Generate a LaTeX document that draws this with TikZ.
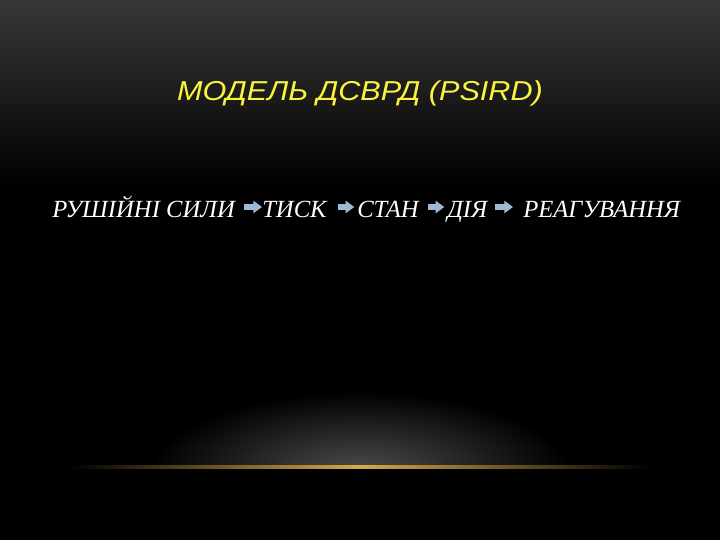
\documentclass[tikz,border=0pt]{standalone}
\usepackage{fontspec}
\setmainfont{Liberation Serif}
\newfontfamily\titlefont[FakeStretch=1.12]{Liberation Sans}
\usetikzlibrary{arrows.meta}
\definecolor{titleyellow}{RGB}{250,245,60}
\definecolor{arrowblue}{RGB}{160,185,210}
\definecolor{glowgold}{RGB}{215,170,70}

\begin{document}
\begin{tikzpicture}[x=0.75pt,y=-0.75pt,
    stage/.style={anchor=base west,inner sep=0pt,text=white,font=\fontsize{18.5}{20}\selectfont\itshape},
    flow/.style 2 args={draw=arrowblue,line width=4.5pt,-{Triangle[width=9pt,length=6.5pt]},shorten <=#1,shorten >=#2}]
        %background
        \fill[black] (0,0) rectangle (720,540);
        \shade[top color=black!78,bottom color=black] (0,0) rectangle (720,185);
        \begin{scope}
            \clip (0,0) rectangle (720,466);
            \shade[inner color=black!70,outer color=black] (360,472) ellipse [x radius=210,y radius=80];
        \end{scope}
        \shade[left color=black,right color=glowgold] (70,465) rectangle (360,468.5);
        \shade[left color=glowgold,right color=black] (360,465) rectangle (650,468.5);
        \useasboundingbox (0,0) rectangle (720,540);

        %title
        \node (title) at (360,93) [text=titleyellow,font=\titlefont\fontsize{20.5}{22}\selectfont\itshape] {МОДЕЛЬ ДСВРД (PSIRD)};

        %stages
        \node (sily) at (52,217) [stage] {РУШІЙНІ СИЛИ};
        \node (tysk) at (262,217) [stage] {ТИСК};
        \node (stan) at (357,217) [stage] {СТАН};
        \node (diia) at (447,217) [stage] {ДІЯ};
        \node (reah) at (523,217) [stage] {РЕАГУВАННЯ};

        %arrows
        \draw[flow={6.75pt}{0pt}] ([yshift=7.5pt]sily.base east) -- ([yshift=7.5pt]tysk.base west);
        \draw[flow={8pt}{2pt}] ([yshift=7.5pt]tysk.base east) -- ([yshift=7.5pt]stan.base west);
        \draw[flow={6.5pt}{2pt}] ([yshift=7.5pt]stan.base east) -- ([yshift=7.5pt]diia.base west);
        \draw[flow={5.5pt}{7.5pt}] ([yshift=7.5pt]diia.base east) -- ([yshift=7.5pt]reah.base west);
    \end{tikzpicture}
\end{document}
